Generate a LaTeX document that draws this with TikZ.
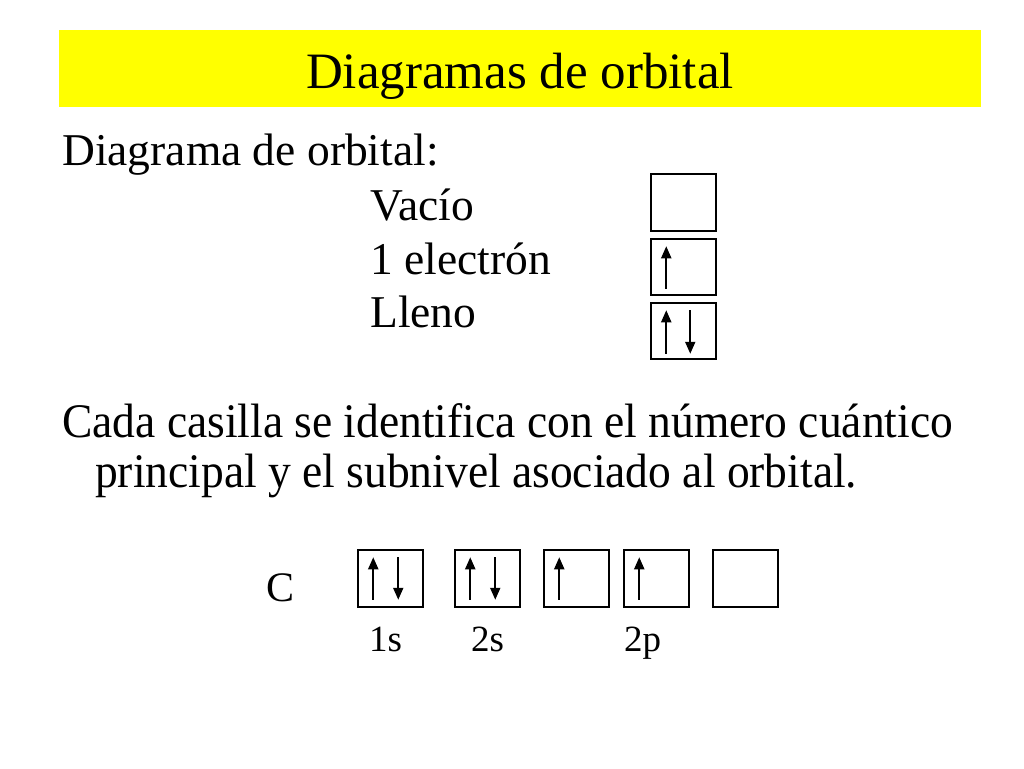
\documentclass[tikz,border=0pt]{standalone}
\usepackage{fontspec}
\setmainfont{Liberation Serif}
\usetikzlibrary{arrows.meta}
\newcommand{\fsz}[1]{\fontsize{#1}{#1}\selectfont}
\tikzset{
  txt/.style={inner sep=0pt, anchor=base west},
  orb/.style={draw=black, line width=1.5pt, minimum width=65pt, minimum height=57pt, inner sep=0pt},
  spin/.style={line width=2pt, -{Triangle[width=10pt,length=12pt]}},
}
\begin{document}
\begin{tikzpicture}[x=1pt,y=-1pt]
\useasboundingbox (0,0) rectangle (1024,768);
\fill[white] (0,0) rectangle (1024,768);
\node[fill={rgb,255:red,255;green,255;blue,0}, minimum width=922pt, minimum height=77pt, inner sep=0pt] (band) at (520,68.5) {};
\node[inner sep=0pt, anchor=base, font=\fsz{51}] (title) at (520,88) {Diagramas de orbital};

\node[txt, font=\fsz{45.5}] (head) at (62,165) {Diagrama de orbital:};
\node[txt, font=\fsz{45.5}] (vac) at (370,220) {Vacío};
\node[txt, font=\fsz{45.5}] (one) at (370,274) {1 electrón};
\node[txt, font=\fsz{45.5}] (full) at (370,327) {Lleno};

\node[orb] (bv) at (683.5,202.5) {};
\node[orb, minimum height=56pt] (bo) at (683.5,267) {};
\node[orb, minimum height=56pt] (bf) at (683.5,331) {};
\draw[spin] ([xshift=16pt,yshift=7pt]bo.south west) -- ([xshift=16pt,yshift=-8pt]bo.north west);
\draw[spin] ([xshift=16pt,yshift=6pt]bf.south west) -- ([xshift=16pt,yshift=-8pt]bf.north west);
\draw[spin] ([xshift=40pt,yshift=-8pt]bf.north west) -- ([xshift=40pt,yshift=6pt]bf.south west);

\node[txt, font=\fsz{45.5}, yscale=1.06] (l1) at (62,437) {Cada casilla se identifica con el número cuántico};
\node[txt, font=\fsz{45.5}, yscale=1.06] (l2) at (95,487) {principal y el subnivel asociado al orbital.};

\node[txt, font=\fsz{42}] (C) at (266,601) {C};
\node[orb] (s1) at (390.5,578.5) {};
\node[orb] (s2) at (487.5,578.5) {};
\node[orb] (p1) at (576.5,578.5) {};
\node[orb] (p2) at (656.5,578.5) {};
\node[orb] (p3) at (745.5,578.5) {};
\foreach \b in {s1,s2}{
  \draw[spin] ([xshift=16pt,yshift=8pt]\b.south west) -- ([xshift=16pt,yshift=-8pt]\b.north west);
  \draw[spin] ([xshift=41pt,yshift=-8pt]\b.north west) -- ([xshift=41pt,yshift=8pt]\b.south west);
}
\foreach \b in {p1,p2}{
  \draw[spin] ([xshift=16pt,yshift=8pt]\b.south west) -- ([xshift=16pt,yshift=-8pt]\b.north west);
}
\node[txt, font=\fsz{37}] (l1s) at (369,651) {1s};
\node[txt, font=\fsz{37}] (l2s) at (471,651) {2s};
\node[txt, font=\fsz{37}] (l2p) at (624,651) {2p};
\end{tikzpicture}
\end{document}
